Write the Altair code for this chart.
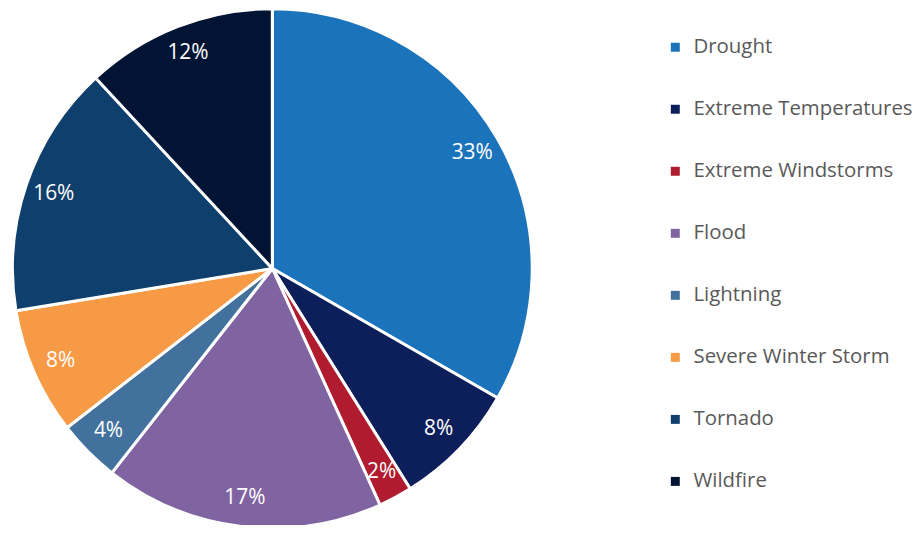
import altair as alt
import pandas as pd

categories = ["Drought", "Extreme Temperatures", "Extreme Windstorms", "Flood",
              "Lightning", "Severe Winter Storm", "Tornado", "Wildfire"]
values = [33.3, 7.8, 2.1, 17.4, 3.9, 7.9, 15.7, 11.9]
labels_txt = ["33%", "8%", "2%", "17%", "4%", "8%", "16%", "12%"]
colors = ["#1a73bb", "#0c1f5b", "#b01b2f", "#8063a1", "#41719c", "#f79a46", "#0f3f6c", "#011434"]

df = pd.DataFrame({
    "category": categories,
    "value": values,
    "order": list(range(len(categories))),
    "label": labels_txt,
})

CX, CY, R = 265.5, 260.5, 261

color = alt.Color(
    "category:N",
    scale=alt.Scale(domain=categories, range=colors),
    sort=categories,
    legend=alt.Legend(
        title=None,
        orient="none",
        legendX=660,
        legendY=28,
        symbolType="square",
        symbolSize=81,
        symbolStrokeWidth=0,
        labelFont="Open Sans",
        labelFontSize=20.5,
        labelColor="#595959",
        labelOffset=8,
        rowPadding=41.3,
        padding=0,
        labelLimit=400,
    ),
)

base = alt.Chart(df).encode(
    theta=alt.Theta("value:Q", stack=True),
    order=alt.Order("order:Q"),
    x=alt.value(CX),
    y=alt.value(CY),
)

arcs = base.mark_arc(outerRadius=R, stroke="white", strokeWidth=3).encode(color=color)

labels = base.mark_text(radius=232, font="Open Sans", fontSize=21, color="white").encode(
    text="label:N"
)

chart = alt.layer(arcs, labels).properties(
    width=910, height=517, autosize=alt.AutoSizeParams(type="none"), padding=0
).configure_view(stroke=None)

chart.save("out.html", embed_options={"renderer": "svg", "actions": False})
